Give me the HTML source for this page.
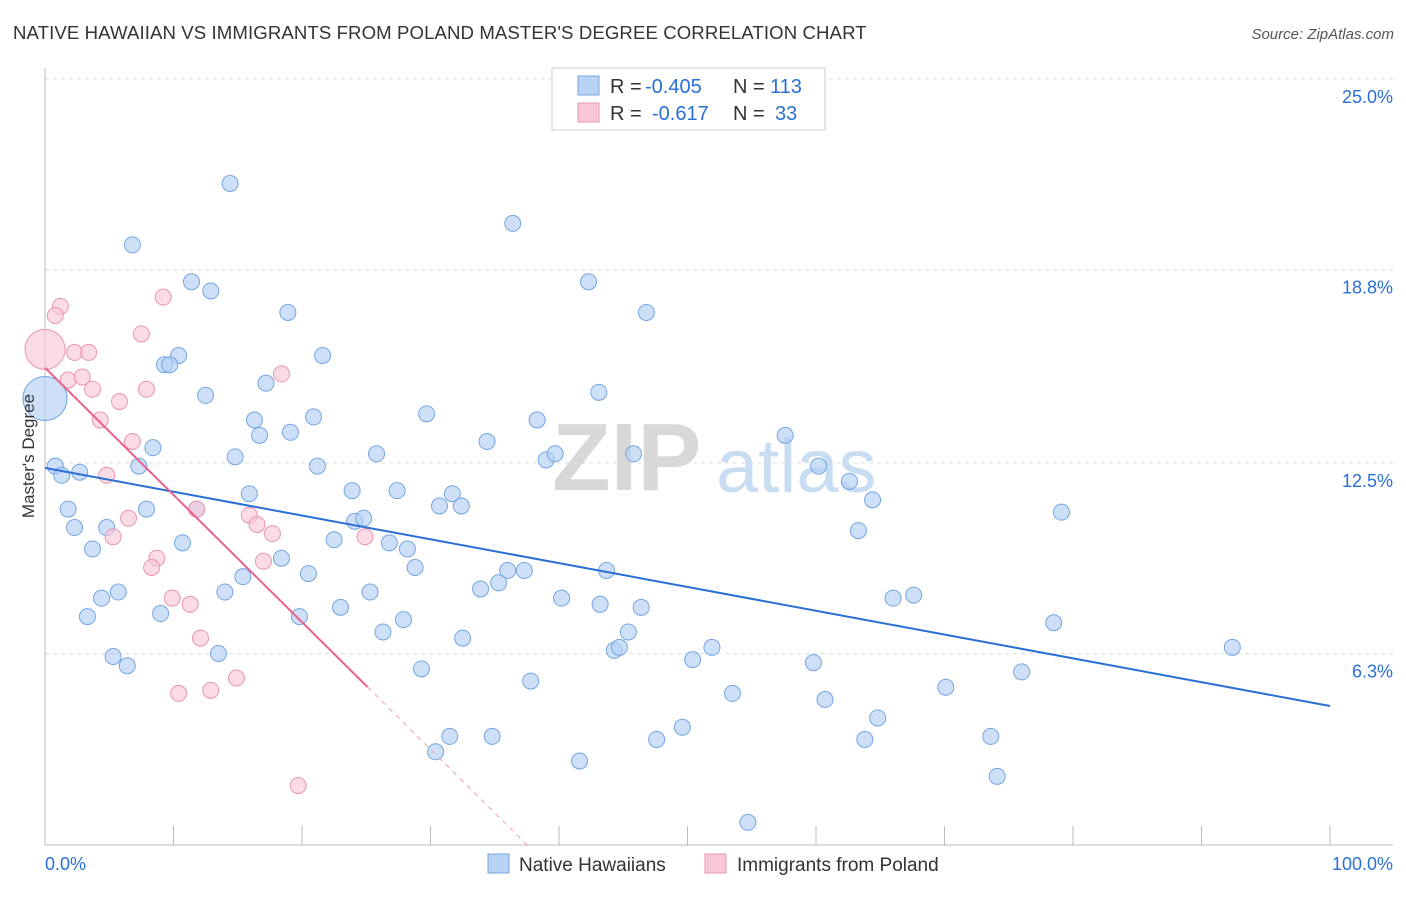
<!DOCTYPE html>
<html><head><meta charset="utf-8">
<style>
body{margin:0;background:#fff;font-family:"Liberation Sans",sans-serif;}
svg text{font-family:"Liberation Sans",sans-serif;}
</style></head>
<body>
<svg id="chart" width="1406" height="892" viewBox="0 0 1406 892" xmlns="http://www.w3.org/2000/svg">
<text x="13" y="39" font-size="18.6" fill="#333" letter-spacing="0.1">NATIVE HAWAIIAN VS IMMIGRANTS FROM POLAND MASTER'S DEGREE CORRELATION CHART</text>
<text x="1394" y="39" font-size="15" fill="#555" font-style="italic" text-anchor="end">Source: ZipAtlas.com</text>
<g>
<text x="552" y="490" font-size="96" fill="#d8d8d8" font-family="Liberation Serif,serif" font-weight="bold">ZIP</text>
<text x="716" y="492" font-size="76" fill="#c8dcf2">atlas</text>
</g>
<g id="grid"></g>
<g id="axes"></g>
<g id="marks"></g>
<text transform="translate(34,456) rotate(-90)" font-size="17" fill="#333" text-anchor="middle">Master's Degree</text>
<g>
<rect x="552" y="68" width="273" height="62" fill="#fff" stroke="#ccc"/>
<rect x="578" y="76" width="21" height="19" fill="#b8d3f4" stroke="#7aa7e0"/>
<rect x="578" y="103" width="21" height="19" fill="#f8c6d4" stroke="#e99ab3"/>
<text x="610" y="93" font-size="20" fill="#333">R =</text>
<text x="645" y="93" font-size="20" fill="#2a6fd6">-0.405</text>
<text x="733" y="93" font-size="20" fill="#333">N =</text>
<text x="770" y="93" font-size="20" fill="#2a6fd6">113</text>
<text x="610" y="120" font-size="20" fill="#333">R =</text>
<text x="652" y="120" font-size="20" fill="#2a6fd6">-0.617</text>
<text x="733" y="120" font-size="20" fill="#333">N =</text>
<text x="775" y="120" font-size="20" fill="#2a6fd6">33</text>
</g>
<g>
<rect x="488" y="854" width="21" height="19" fill="#b8d3f4" stroke="#7aa7e0"/>
<text x="519" y="871" font-size="19" fill="#333">Native Hawaiians</text>
<rect x="705" y="854" width="21" height="19" fill="#f8c6d4" stroke="#e99ab3"/>
<text x="737" y="871" font-size="19" fill="#333">Immigrants from Poland</text>
</g>
</svg>
<script>
const yTicks=[25.0,18.8,12.5,6.3];
const yTickLabels=["25.0%","18.8%","12.5%","6.3%"];
const xTickLabels=["0.0%","100.0%"];
const blueX=[14.4,36.4,6.8,11.4,12.9,42.3,18.9,46.8,21.6,10.4,9.3,9.7,12.5,17.2,43.1,29.7,16.3,20.9,38.3,16.7,19.1,8.4,34.4,57.6,14.8,25.8,39.0,39.7,45.8,0.8,1.3,2.7,7.3,21.2,60.2,62.6,15.9,23.9,27.4,31.7,1.8,7.9,11.8,30.7,32.4,64.4,79.1,24.1,24.8,2.3,4.8,22.5,26.8,28.2,10.7,63.3,3.7,18.4,28.8,36.0,37.3,43.7,15.4,20.5,33.9,35.3,14.0,4.4,5.7,25.3,40.2,43.2,46.4,66.0,67.6,9.0,3.3,23.0,19.8,27.9,26.3,45.4,32.5,78.5,44.3,44.7,51.9,92.4,5.3,6.4,13.5,50.4,59.8,29.3,76.0,37.8,70.1,53.5,60.7,64.8,49.6,31.5,34.8,47.6,63.8,73.6,30.4,41.6,74.1,54.7];
const blueY=[21.6,20.3,19.6,18.4,18.1,18.4,17.4,17.4,16.0,16.0,15.7,15.7,14.7,15.1,14.8,14.1,13.9,14.0,13.9,13.4,13.5,13.0,13.2,13.4,12.7,12.8,12.6,12.8,12.8,12.4,12.1,12.2,12.4,12.4,12.4,11.9,11.5,11.6,11.6,11.5,11.0,11.0,11.0,11.1,11.1,11.3,10.9,10.6,10.7,10.4,10.4,10.0,9.9,9.7,9.9,10.3,9.7,9.4,9.1,9.0,9.0,9.0,8.8,8.9,8.4,8.6,8.3,8.1,8.3,8.3,8.1,7.9,7.8,8.1,8.2,7.6,7.5,7.8,7.5,7.4,7.0,7.0,6.8,7.3,6.4,6.5,6.5,6.5,6.2,5.9,6.3,6.1,6.0,5.8,5.7,5.4,5.2,5.0,4.8,4.2,3.9,3.6,3.6,3.5,3.5,3.6,3.1,2.8,2.3,0.8];
const blueBig=[0,14.6];
const pinkX=[1.2,0.8,2.3,3.4,9.2,7.5,1.8,2.9,3.7,5.8,7.9,18.4,4.3,6.8,4.8,11.8,15.9,16.5,17.7,6.5,5.3,8.7,8.3,24.9,17.0,9.9,11.3,12.1,14.9,10.4,12.9,19.7];
const pinkY=[17.6,17.3,16.1,16.1,17.9,16.7,15.2,15.3,14.9,14.5,14.9,15.4,13.9,13.2,12.1,11.0,10.8,10.5,10.2,10.7,10.1,9.4,9.1,10.1,9.3,8.1,7.9,6.8,5.5,5.0,5.1,2.0];
const pinkBig=[0,16.2];
const blueTrend=[12.34,4.59];
const pinkTrend=[15.6,0];
const pinkSlope=-0.414;
const pinkSolidEnd=25.1;

const NS="http://www.w3.org/2000/svg";
const X0=45,X1=1330,Y0=847,PPY=30.72;
const sx=v=>X0+(X1-X0)*v/100;
const sy=v=>Y0-v*PPY;
function mk(tag,attrs,parent){const e=document.createElementNS(NS,tag);for(const k in attrs)e.setAttribute(k,attrs[k]);parent.appendChild(e);return e;}
const grid=document.getElementById('grid'),axes=document.getElementById('axes'),marks=document.getElementById('marks');
yTicks.forEach((t,i)=>{
 const l=mk('line',{x1:45,x2:1393,y1:sy(t),y2:sy(t),stroke:'#ddd','stroke-dasharray':'4,4'},grid);
 
 
 const tx=mk('text',{x:1393,y:sy(t)+24,'font-size':18,fill:'#2a6fd6','text-anchor':'end'},axes);
 tx.textContent=yTickLabels[i];
 
 
});
const ax=mk('line',{x1:45,x2:1393,y1:845,y2:845,stroke:'#bbb'},axes);


const ay=mk('line',{x1:45,x2:45,y1:68,y2:845,stroke:'#bbb'},axes);


for(let i=0;i<=10;i++){
 const t=mk('line',{x1:sx(i*10),x2:sx(i*10),y1:826,y2:845,stroke:'#bbb'},axes);
 
 
}
const xl0=mk('text',{x:45,y:870,'font-size':18,fill:'#2a6fd6'},axes);xl0.textContent=xTickLabels[0];


const xl1=mk('text',{x:1393,y:870,'font-size':18,fill:'#2a6fd6','text-anchor':'end'},axes);xl1.textContent=xTickLabels[1];



function dot(x,y,r,fill,stroke,name){
 const c=mk('circle',{cx:sx(x),cy:sy(y),r:r,fill:fill,'fill-opacity':0.65,stroke:stroke,'stroke-width':1},marks);
 
 
}
blueX.forEach((x,i)=>dot(x,blueY[i],8,'#b4d0f4','#74a5e2','native-hawaiian-point'));
dot(blueBig[0],blueBig[1],22,'#b4d0f4','#74a5e2','native-hawaiian-point');
pinkX.forEach((x,i)=>dot(x,pinkY[i],8,'#f9c8d6','#e995b0','poland-point'));
dot(pinkBig[0],pinkBig[1],20,'#f9c8d6','#e995b0','poland-point');

const bt=mk('line',{x1:sx(0),y1:sy(blueTrend[0]),x2:sx(100),y2:sy(blueTrend[1]),stroke:'#2a6fd6','stroke-width':2},marks);


const pAt=x=>pinkTrend[0]+pinkSlope*x;
const pt=mk('line',{x1:sx(0),y1:sy(pinkTrend[0]),x2:sx(pinkSolidEnd),y2:sy(pAt(pinkSolidEnd)),stroke:'#e8628e','stroke-width':2},marks);


const pd=mk('line',{x1:sx(pinkSolidEnd),y1:sy(pAt(pinkSolidEnd)),x2:sx(-pinkTrend[0]/pinkSlope),y2:sy(pinkTrend[1]),stroke:'#e8a0b8','stroke-width':1,'stroke-dasharray':'5,5'},marks);


</script>
</body></html>
